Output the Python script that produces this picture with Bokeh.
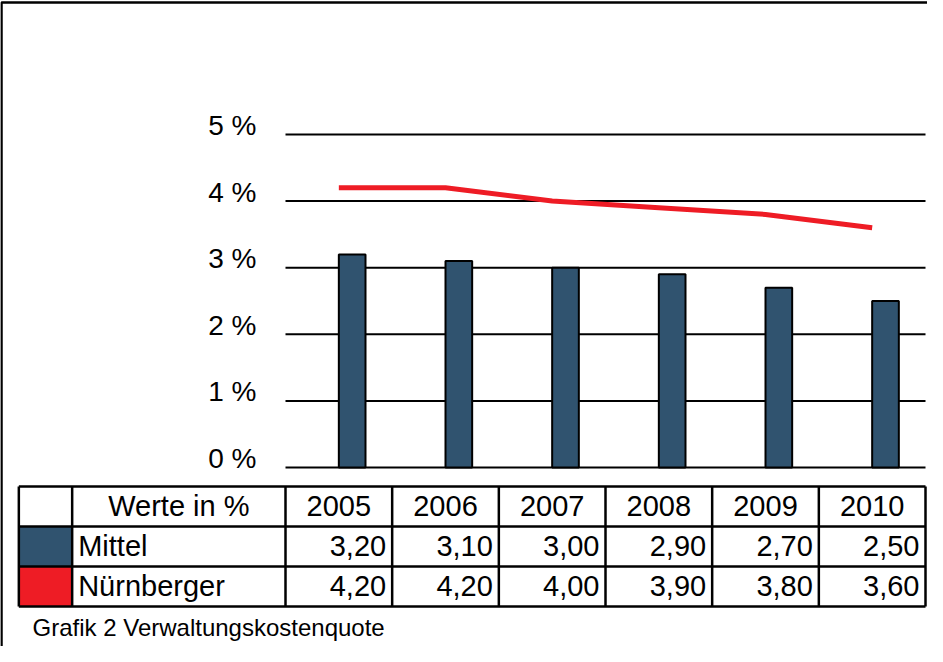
from bokeh.plotting import figure
from bokeh.models import Range1d
from bokeh.core.properties import value
from bokeh.embed import file_html
from bokeh.resources import INLINE

# ---------------- data ----------------
years = ["2005", "2006", "2007", "2008", "2009", "2010"]
mittel = [3.20, 3.10, 3.00, 2.90, 2.70, 2.50]
nuernberger = [4.20, 4.20, 4.00, 3.90, 3.80, 3.60]
y_ticks = [0, 1, 2, 3, 4, 5]
tick_labels = ["0 %", "1 %", "2 %", "3 %", "4 %", "5 %"]
series_names = ["Mittel", "Nürnberger"]
header_label = "Werte in %"
caption = "Grafik 2 Verwaltungskostenquote"

# ---------------- style / layout ----------------
BLUE = "#30536F"
RED = "#EE1C25"
FONT = value("Liberation Sans")
W, H = 927, 646
X0_PX, XN_PX = 285, 925      # canvas x of category axis start / end
Y0_PX, Y5_PX = 467, 134      # canvas y of 0 % and 5 %
ncat = len(years)
ux = (XN_PX - X0_PX) / ncat
uy = (Y0_PX - Y5_PX) / 5.0

p = figure(width=W, height=H, output_backend="svg", toolbar_location=None,
           x_range=Range1d(-X0_PX / ux, ncat + (W - XN_PX) / ux),
           y_range=Range1d(-(H - Y0_PX) / uy, Y0_PX / uy),
           x_axis_location=None, y_axis_location=None)
p.min_border_left = p.min_border_right = p.min_border_top = p.min_border_bottom = 0
p.min_border = 0
p.extra_x_ranges = {"px": Range1d(0, W)}
p.extra_y_ranges = {"px": Range1d(H, 0)}
p.grid.visible = False
p.outline_line_color = None
p.background_fill_color = "white"
p.border_fill_color = "white"

xs = list(range(ncat))

# gridlines
p.segment(x0=[0] * len(y_ticks), x1=[ncat] * len(y_ticks), y0=y_ticks, y1=y_ticks,
          line_color="black", line_width=2)

# tick labels
p.text(x=[256] * len(y_ticks), y=y_ticks, text=tick_labels, x_range_name="px",
       text_align="right", text_baseline="middle", y_offset=-9,
       text_font=FONT, text_font_size=value("28px"), text_color="black")

# bars (offset to the right half of each category, as in the original)
p.vbar(x=[i + 0.5 + 0.125 for i in xs], width=0.25, top=mittel, bottom=0,
       fill_color=BLUE, line_color="black", line_width=2)

# line
p.line(x=[i + 0.5 for i in xs], y=nuernberger, line_color=RED, line_width=5)

# ---------------- data table ----------------
rows = [486, 526, 566, 606]          # canvas y of row borders
leg_l, leg_r, lab_r = -2.5, -2.0, 0.0
series_colors = [BLUE, RED]
p.quad(left=[leg_l] * 2, right=[leg_r] * 2, top=rows[1:3], bottom=rows[2:4],
       fill_color=series_colors, line_color=None, y_range_name="px")

p.segment(x0=[leg_l] * len(rows), x1=[ncat] * len(rows), y0=rows, y1=rows,
          y_range_name="px", line_color="black", line_width=2.5)
vx = [leg_l, leg_r, lab_r] + [i + 1 for i in xs]
p.segment(x0=vx, x1=vx, y0=[rows[0]] * len(vx), y1=[rows[-1]] * len(vx),
          y_range_name="px", line_color="black", line_width=2.5)

TFS = value("29px")
mid = [505.5, 545.5, 585.5]
p.text(x=[(leg_r + lab_r) / 2], y=[mid[0]], text=[header_label], y_range_name="px",
       text_align="center", text_baseline="middle", text_font=FONT, text_font_size=TFS)
p.text(x=[i + 0.5 for i in xs], y=[mid[0]] * ncat, text=years, y_range_name="px",
       text_align="center", text_baseline="middle", text_font=FONT, text_font_size=TFS)
p.text(x=[leg_r] * 2, y=mid[1:3], text=series_names, y_range_name="px", x_offset=6,
       text_align="left", text_baseline="middle", text_font=FONT, text_font_size=TFS)
for r, vals in zip(mid[1:3], [mittel, nuernberger]):
    p.text(x=[i + 1 for i in xs], y=[r] * ncat,
           text=[f"{v:.2f}".replace(".", ",") for v in vals], y_range_name="px",
           x_offset=-6, text_align="right", text_baseline="middle",
           text_font=FONT, text_font_size=TFS)

# caption
p.text(x=[32], y=[627], text=[caption], x_range_name="px", y_range_name="px",
       text_align="left", text_baseline="middle", text_font=FONT,
       text_font_size=value("24px"))

# outer border (left and top edges visible)
p.line(x=[1, 1, W], y=[H, 2, 2], x_range_name="px", y_range_name="px",
       line_color="black", line_width=2.5)

open("out.html", "w").write(file_html(p, INLINE))
